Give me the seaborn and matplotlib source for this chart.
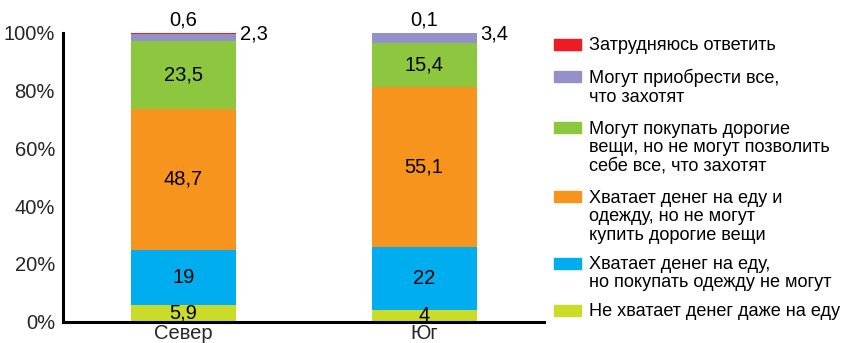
import matplotlib
matplotlib.use("Agg")
import matplotlib.pyplot as plt
import seaborn as sns
import numpy as np
from matplotlib.patches import Rectangle

categories = ["Север", "Юг"]
series_names = [
    "Не хватает денег даже на еду",
    "Хватает денег на еду,\nно покупать одежду не могут",
    "Хватает денег на еду и\nодежду, но не могут\nкупить дорогие вещи",
    "Могут покупать дорогие\nвещи, но не могут позволить\nсебе все, что захотят",
    "Могут приобрести все,\nчто захотят",
    "Затрудняюсь ответить",
]
values_low = [5.9, 4.0]        # Не хватает денег даже на еду
values_food = [19.0, 22.0]     # Хватает на еду
values_clothes = [48.7, 55.1]  # Хватает на еду и одежду
values_expensive = [23.5, 15.4]
values_all = [2.3, 3.4]
values_na = [0.6, 0.1]
value_labels = [
    ["5,9", "4"],
    ["19", "22"],
    ["48,7", "55,1"],
    ["23,5", "15,4"],
    ["2,3", "3,4"],
    ["0,6", "0,1"],
]
y_ticks = [0, 20, 40, 60, 80, 100]
y_tick_labels = ["0%", "20%", "40%", "60%", "80%", "100%"]

colors = ["#CBDB2A", "#00AEEF", "#F7941E", "#8DC63F", "#9490C8", "#ED1C24"]

sns.set_theme(style="white")
plt.rcParams["font.family"] = ["Liberation Sans", "DejaVu Sans"]

fig = plt.figure(figsize=(8.45, 3.43), dpi=100)
ax = fig.add_axes([63.3 / 845, 1 - 321.7 / 343, (544.3 - 63.3) / 845, (321.7 - 32.7) / 343])

series = [values_low, values_food, values_clothes, values_expensive, values_all, values_na]
cum = np.cumsum(np.array(series), axis=0)

# draw stacked bars by overlaying cumulative totals from top to bottom
for i in range(len(series) - 1, -1, -1):
    sns.barplot(x=categories, y=cum[i], color=colors[i], saturation=1,
                width=0.437, ax=ax, linewidth=0)

fs = 14.5
for j in range(len(categories)):
    for i in range(4):
        center = cum[i][j] - series[i][j] / 2
        ax.text(j, center, value_labels[i][j], ha="center", va="center",
                fontsize=fs, color="black")
    # small segments: "all" label to the right, "na" label above
    ax.text(j + 0.437 / 2 + 0.015, cum[5][j] - 0.6, value_labels[4][j], ha="left",
            va="center", fontsize=fs, color="black")
    ax.text(j, cum[5][j] + 1.0, value_labels[5][j], ha="center", va="bottom",
            fontsize=fs, color="black")

ax.set_xlim(-0.5, 1.5)
ax.set_ylim(0, 100)
ax.set_yticks(y_ticks)
ax.set_yticklabels(y_tick_labels, fontsize=fs)
ax.set_xticks([-0.5, 0.5, 1.5])
ax.set_xticklabels([])
ax.set_xticks([0, 1], minor=True)
ax.set_xticklabels(categories, minor=True, fontsize=fs)
ax.tick_params(axis="x", which="minor", length=0, pad=1.5)
ax.tick_params(axis="x", which="major", length=5, width=1.6, direction="out", color="black")
ax.tick_params(axis="y", length=5, width=1.6, direction="out", color="black", pad=1)
ax.set_xlabel("")
ax.set_ylabel("")
for s in ["top", "right"]:
    ax.spines[s].set_visible(False)
for s in ["left", "bottom"]:
    ax.spines[s].set_color("black")
    ax.spines[s].set_linewidth(2.2)
for t in ax.texts:
    t.set_clip_on(False)

# legend (manual, to mimic layout)
legend_centers = [310, 263, 197, 128, 76, 44.5]
for i in range(len(series)):
    yc = 1 - legend_centers[i] / 343
    fig.patches.append(Rectangle((554 / 845, yc - 5.5 / 343), 27 / 845, 11 / 343,
                                 transform=fig.transFigure, color=colors[i]))
    fig.text(589 / 845, yc + 7.0 / 343, series_names[i], ha="left", va="top",
             fontsize=13.1, linespacing=1.1, color="black")

fig.savefig("out.png", dpi=100)
